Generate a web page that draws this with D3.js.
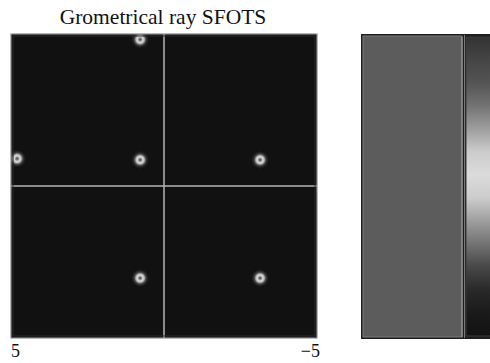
<!DOCTYPE html>
<html>
<head>
<meta charset="utf-8">
<script src="https://cdn.jsdelivr.net/npm/d3@7"></script>
<style>
  body { margin: 0; background: #fff; }
  svg { display: block; }
</style>
</head>
<body>
<svg id="chart" width="490" height="363"></svg>
<script>
// ---- data ----
const title = "Grometrical ray SFOTS";
const xDomain = [5, -5];
const yDomain = [5, -5];
const xTickLabels = ["5", "\u22125"];
const spotX = [0.78, -3.14, 0.78, -3.14, 0.78, 4.8];
const spotY = [0.86, 0.86, -3.03, -3.03, 4.82, 0.9];
// colour bar intensity profile (top -> bottom)
const barLevels = [0.20, 0.27, 0.33, 0.45, 0.62, 0.80, 0.86, 0.80, 0.62, 0.45, 0.28, 0.16, 0.10, 0.07];

const svg = d3.select("#chart");
const defs = svg.append("defs");

const P = { left: 11, top: 34, right: 317, bottom: 338 };
const x = d3.scaleLinear().domain(xDomain).range([P.left, P.right]);
const y = d3.scaleLinear().domain(yDomain).range([P.top, P.bottom]);

const serif = "Liberation Serif, Times New Roman, serif";

// title
svg.append("text")
  .attr("x", 163).attr("y", 24)
  .attr("text-anchor", "middle")
  .attr("font-family", serif)
  .attr("font-size", 21.5)
  .attr("fill", "#111")
  .text(title);

// clip
defs.append("clipPath").attr("id", "clip")
  .append("rect").attr("x", P.left).attr("y", P.top)
  .attr("width", P.right - P.left).attr("height", P.bottom - P.top);

// spot gradient + blur
const rg = defs.append("radialGradient").attr("id", "spot");
[[0, "#444", 1], [0.12, "#7a7a7a", 1], [0.3, "#dcdcdc", 1], [0.45, "#b0b0b0", 1],
 [0.6, "#555", 0.85], [0.8, "#2a2a2a", 0.5], [1, "#111", 0]].forEach(s =>
  rg.append("stop").attr("offset", s[0]).attr("stop-color", s[1]).attr("stop-opacity", s[2]));
defs.append("filter").attr("id", "soft")
  .attr("x", "-50%").attr("y", "-50%").attr("width", "200%").attr("height", "200%")
  .append("feGaussianBlur").attr("stdDeviation", 0.7);

// panel background
svg.append("rect")
  .attr("x", P.left).attr("y", P.top)
  .attr("width", P.right - P.left).attr("height", P.bottom - P.top)
  .attr("fill", "#111");

const g = svg.append("g").attr("clip-path", "url(#clip)");

// cross lines
g.append("line")
  .attr("x1", x(0)).attr("x2", x(0)).attr("y1", P.top).attr("y2", P.bottom)
  .attr("stroke", "#b4b4b4").attr("stroke-width", 1.5);
g.append("line")
  .attr("x1", P.left).attr("x2", P.right).attr("y1", y(0)).attr("y2", y(0))
  .attr("stroke", "#b4b4b4").attr("stroke-width", 1.5);

// spots
g.selectAll("circle.spot")
  .data(spotX.map((d, i) => ({ x: spotX[i], y: spotY[i] })))
  .join("circle")
  .attr("class", "spot")
  .attr("cx", d => x(d.x)).attr("cy", d => y(d.y))
  .attr("r", 9.5)
  .attr("fill", "url(#spot)")
  .attr("filter", "url(#soft)");

// panel border
svg.append("rect")
  .attr("x", P.left).attr("y", P.top)
  .attr("width", P.right - P.left).attr("height", P.bottom - P.top)
  .attr("fill", "none").attr("stroke", "#8a8a8a").attr("stroke-width", 1.2);
svg.append("rect")
  .attr("x", P.left + 2).attr("y", P.top + 2)
  .attr("width", P.right - P.left - 4).attr("height", P.bottom - P.top - 4)
  .attr("fill", "none").attr("stroke", "#2a2a2a").attr("stroke-width", 1);

// x tick labels
svg.append("text")
  .attr("x", x(xDomain[0])).attr("y", 357)
  .attr("font-family", serif)
  .attr("font-size", 18).attr("fill", "#111")
  .text(xTickLabels[0]);
svg.append("text")
  .attr("x", x(xDomain[1]) + 3).attr("y", 357)
  .attr("text-anchor", "end")
  .attr("font-family", serif)
  .attr("font-size", 18).attr("fill", "#111")
  .text(xTickLabels[1]);

// right panel (uniform gray image + colour bar)
const R = { left: 361, top: 34, right: 492, bottom: 339 };
svg.append("rect")
  .attr("x", R.left).attr("y", R.top)
  .attr("width", R.right - R.left).attr("height", R.bottom - R.top)
  .attr("fill", "#1e1e1e");
svg.append("rect")
  .attr("x", 363).attr("y", 36)
  .attr("width", 99).attr("height", 301)
  .attr("fill", "#5c5c5c")
  .attr("stroke", "#7a7a7a").attr("stroke-width", 1);
svg.append("line")
  .attr("x1", 462).attr("x2", 462).attr("y1", 37).attr("y2", 337)
  .attr("stroke", "#a5a5a5").attr("stroke-width", 1);

const lg = defs.append("linearGradient").attr("id", "bar")
  .attr("x1", 0).attr("x2", 0).attr("y1", 0).attr("y2", 1);
const op = d3.scaleLinear().domain([0, barLevels.length - 1]).range([0, 1]);
barLevels.forEach((v, i) => {
  const c = Math.round(v * 255);
  lg.append("stop").attr("offset", op(i)).attr("stop-color", d3.rgb(c, c, c));
});
svg.append("rect")
  .attr("x", 466).attr("y", 37)
  .attr("width", 30).attr("height", 299)
  .attr("fill", "url(#bar)")
  .attr("stroke", "#3a3a3a").attr("stroke-width", 1);
svg.append("line")
  .attr("x1", 464.5).attr("x2", 464.5).attr("y1", 35).attr("y2", 338)
  .attr("stroke", "#7a7a7a").attr("stroke-width", 1);
</script>
</body>
</html>
